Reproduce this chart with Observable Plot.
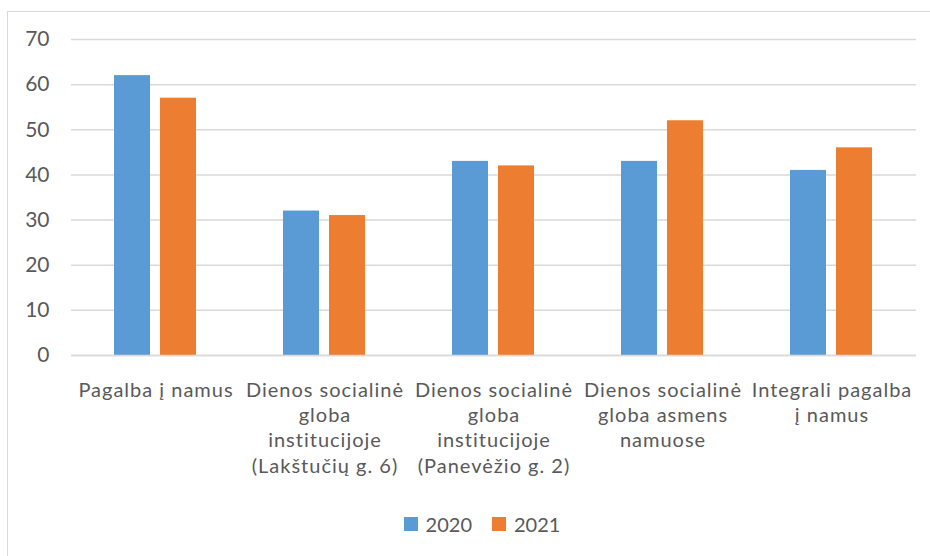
<!DOCTYPE html>
<html>
<head>
<meta charset="utf-8">
<script src="https://cdn.jsdelivr.net/npm/d3@7"></script>
<script src="https://cdn.jsdelivr.net/npm/@observablehq/plot@0.6"></script>
<style>
  html, body { margin: 0; padding: 0; background: #fff; }
  #wrap { position: relative; width: 930px; height: 556px; overflow: hidden; font-family: Lato, "Noto Sans", sans-serif; }
  #frame { position: absolute; left: 7px; top: 11px; width: 1000px; height: 1000px; border: 1px solid #d9d9d9; box-sizing: border-box; }
  #chart { position: absolute; left: 0; top: 0; }
  #chart svg .catlabels text { letter-spacing: 1px; }
  #legend { position: absolute; left: 2px; top: 512px; width: 960px; display: flex; justify-content: center; gap: 20px; color: #595959; font-size: 20px; }
  .item { display: flex; align-items: center; gap: 8px; }
  .sw { width: 14px; height: 14px; display: inline-block; }
</style>
</head>
<body>
<div id="wrap">
  <div id="frame"></div>
  <div id="chart"></div>
  <div id="legend"></div>
</div>
<script>
const categories = [
  "Pagalba į namus",
  "Dienos socialinė\nglobа\ninstitucijoje\n(Lakštučių g. 6)",
  "Dienos socialinė\nglobа\ninstitucijoje\n(Panevėžio g. 2)",
  "Dienos socialinė\nglobа asmens\nnamuose",
  "Integrali pagalba\nį namus"
].map(s => s.replace(/а/g, "a"));
const years = ["2020", "2021"];
const values2020 = [62, 32, 43, 43, 41];
const values2021 = [57, 31, 42, 52, 46];
const colors = ["#5B9BD5", "#ED7D31"];
const yTicks = [0, 10, 20, 30, 40, 50, 60, 70];

const data = [];
categories.forEach((c, i) => {
  data.push({category: c, year: years[0], value: values2020[i]});
  data.push({category: c, year: years[1], value: values2021[i]});
});

const plot = Plot.plot({
  width: 930,
  height: 500,
  marginLeft: 70,
  marginRight: 14,
  marginTop: 39,
  marginBottom: 145,
  style: {fontFamily: "Lato, 'Noto Sans', sans-serif", fontSize: "20px", color: "#595959", background: "transparent"},
  fx: {domain: categories, padding: 0, axis: null},
  x: {domain: years, paddingInner: 0.213, paddingOuter: 0.91, axis: null},
  y: {domain: [0, 70], axis: null},
  color: {domain: years, range: colors},
  marks: [
    Plot.gridY(yTicks, {stroke: "#d9d9d9", strokeOpacity: 1, strokeWidth: 1.5}),
    Plot.barY(data, {fx: "category", x: "year", y: "value", fill: "year"}),
    Plot.ruleY([0], {stroke: "#d9d9d9", strokeWidth: 1.5}),
    Plot.axisY(yTicks, {tickSize: 0, tickPadding: 22, fontSize: 21, fill: "#595959", label: null}),
    Plot.text(categories, {fx: d => d, text: d => d, frameAnchor: "bottom", lineAnchor: "top", dy: 23, lineHeight: 1.27, fontSize: 20, fill: "#595959", className: "catlabels"})
  ]
});
document.getElementById("chart").appendChild(plot);

const legend = document.getElementById("legend");
years.forEach((y, i) => {
  const item = document.createElement("div");
  item.className = "item";
  const sw = document.createElement("span");
  sw.className = "sw";
  sw.style.background = colors[i];
  const t = document.createElement("span");
  t.textContent = y;
  item.appendChild(sw);
  item.appendChild(t);
  legend.appendChild(item);
});
</script>
</body>
</html>
